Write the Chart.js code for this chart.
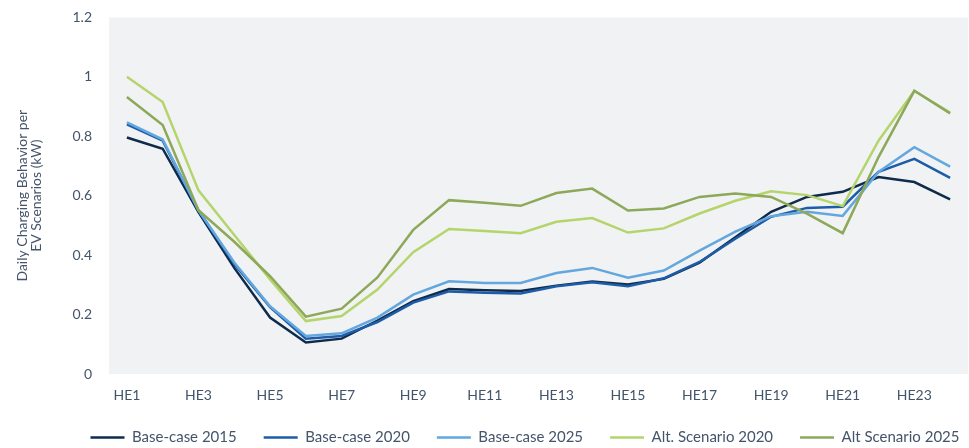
<!DOCTYPE html>
<html>
<head>
<meta charset="utf-8">
<script src="https://cdn.jsdelivr.net/npm/chart.js@4/dist/chart.umd.min.js"></script>
<style>
html,body{margin:0;padding:0;background:#fff;}
#wrap{width:969px;height:448px;}
</style>
</head>
<body>
<div id="wrap"><canvas id="chart"></canvas></div>
<script>
// Daily EV charging profile per scenario (kW), hour-ending 1..24.
const hours=['HE1','HE2','HE3','HE4','HE5','HE6','HE7','HE8','HE9','HE10','HE11','HE12','HE13','HE14','HE15','HE16','HE17','HE18','HE19','HE20','HE21','HE22','HE23','HE24'];
const base2015=[0.796,0.758,0.545,0.357,0.19,0.106,0.119,0.18,0.245,0.286,0.282,0.279,0.297,0.311,0.301,0.32,0.375,0.46,0.546,0.596,0.613,0.663,0.646,0.588];
const base2020=[0.84,0.785,0.55,0.37,0.225,0.119,0.128,0.175,0.24,0.278,0.273,0.271,0.295,0.309,0.295,0.322,0.377,0.455,0.529,0.559,0.563,0.68,0.724,0.66];
const base2025=[0.847,0.789,0.551,0.375,0.228,0.128,0.137,0.19,0.267,0.312,0.306,0.306,0.34,0.357,0.324,0.348,0.415,0.479,0.531,0.546,0.532,0.68,0.763,0.698];
const alt2020=[1.0,0.915,0.618,0.468,0.318,0.178,0.195,0.284,0.41,0.488,0.481,0.474,0.512,0.525,0.476,0.49,0.54,0.583,0.615,0.602,0.565,0.785,0.953,0.88];
const alt2025=[0.932,0.838,0.551,0.445,0.329,0.193,0.22,0.325,0.485,0.585,0.576,0.566,0.609,0.624,0.55,0.557,0.596,0.607,0.596,0.54,0.474,0.73,0.953,0.877];
const seriesNames=['Base-case 2015','Base-case 2020','Base-case 2025','Alt. Scenario 2020','Alt Scenario 2025'];
const seriesColors=['#0f2b4c','#1c5ca8','#62a7de','#b5d46b','#8ea85a'];
const yTicks=[0,0.2,0.4,0.6,0.8,1,1.2];

const TXT='#44546A';
const FONT='Lato';

// gray plot-area background
const plotBg={
  id:'plotBg',
  beforeDraw(chart){
    const {ctx,chartArea:a}=chart;
    ctx.save();
    ctx.fillStyle='#f1f2f4';
    ctx.fillRect(a.left,a.top,a.right-a.left,a.bottom-a.top);
    ctx.restore();
  }
};

// legend in the original sits a bit right of canvas centre and close to the bottom edge
const legendShift={
  id:'legendShift',
  afterLayout(chart){
    const lg=chart.legend;
    if(!lg) return;
    lg.left+=41;lg.right+=41;
    lg.top-=4;lg.bottom-=4;
  }
};

const allSeries=[base2015,base2020,base2025,alt2020,alt2025];
const datasets=allSeries.map((d,i)=>({
  label:seriesNames[i],
  data:d,
  borderColor:seriesColors[i],
  backgroundColor:seriesColors[i],
  borderWidth:2.5,
  pointRadius:0,
  tension:0,
  order:allSeries.length-i
}));

new Chart(document.getElementById('chart'),{
  type:'line',
  data:{labels:hours,datasets},
  plugins:[plotBg,legendShift],
  options:{
    responsive:true,maintainAspectRatio:false,animation:false,
    layout:{padding:{top:2,right:1,left:0,bottom:-11}},
    plugins:{
      tooltip:{enabled:false},
      legend:{
        position:'bottom',
        labels:{
          usePointStyle:true,pointStyle:'line',pointStyleWidth:34,
          font:{family:FONT,size:15},color:TXT,padding:27,
          sort:(a,b)=>a.datasetIndex-b.datasetIndex
        }
      }
    },
    scales:{
      x:{
        offset:true,
        grid:{display:false},border:{display:false},
        ticks:{
          autoSkip:false,maxRotation:0,padding:5,
          color:TXT,font:{family:FONT,size:14},
          callback:(v,i)=>i%2===0?hours[i]:''
        },
        afterFit:s=>{s.height=33;}
      },
      y:{
        min:0,max:1.2,
        grid:{display:false},border:{display:false},
        afterBuildTicks:s=>{s.ticks=yTicks.map(v=>({value:v}));},
        ticks:{color:TXT,font:{family:FONT,size:14},padding:9,callback:v=>String(+v.toFixed(1))},
        title:{display:true,text:['Daily Charging Behavior per','EV Scenarios (kW)'],color:TXT,font:{family:FONT,size:14,lineHeight:1},padding:{top:15,bottom:4}},
        afterFit:s=>{s.width=109;}
      }
    }
  }
});
</script>
</body>
</html>
